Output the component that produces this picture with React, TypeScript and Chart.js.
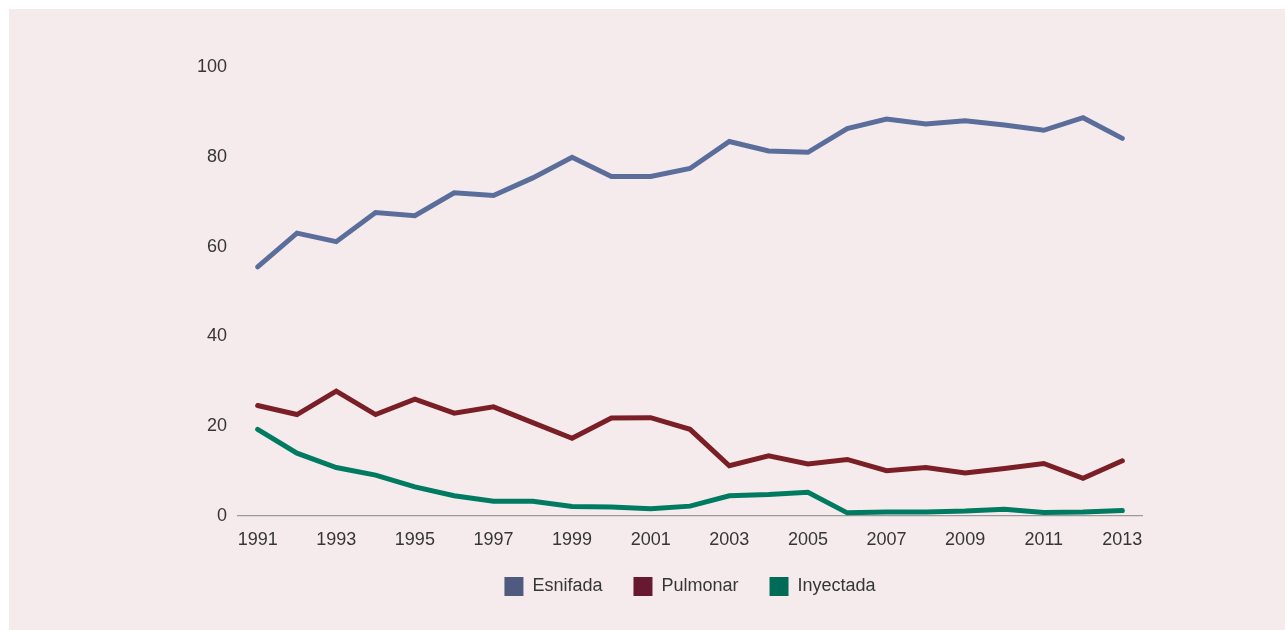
import React, { useEffect, useRef } from "react";
import { Chart, registerables } from "chart.js";

Chart.register(...registerables);

const years = [
  "1991", "1992", "1993", "1994", "1995", "1996", "1997", "1998", "1999", "2000", "2001", "2002",
  "2003", "2004", "2005", "2006", "2007", "2008", "2009", "2010", "2011", "2012", "2013",
];

const esnifada = [
  55.5, 63.0, 61.1, 67.6, 66.9, 72.0, 71.4, 75.3, 79.9, 75.6, 75.6, 77.4,
  83.4, 81.3, 81.0, 86.3, 88.4, 87.3, 88.0, 87.1, 85.9, 88.7, 84.1,
];

const pulmonar = [
  24.6, 22.6, 27.8, 22.6, 26.0, 22.9, 24.3, 20.8, 17.3, 21.8, 21.9, 19.3,
  11.2, 13.4, 11.6, 12.6, 10.1, 10.8, 9.6, 10.6, 11.7, 8.4, 12.3,
];

const inyectada = [
  19.3, 14.0, 10.8, 9.1, 6.5, 4.5, 3.3, 3.3, 2.1, 2.0, 1.6, 2.2,
  4.5, 4.8, 5.3, 0.7, 0.9, 0.9, 1.1, 1.5, 0.8, 0.9, 1.2,
];

const seriesNames = ["Esnifada", "Pulmonar", "Inyectada"];
const lineColors = ["#5b6e9b", "#7b1f26", "#007b62"];
const legendColors = ["#4f5a7e", "#66192f", "#006b57"];

const FONT = "'Liberation Sans', Arial, Helvetica, sans-serif";
const TEXT = "#363636";

export default function App() {
  const ref = useRef<HTMLCanvasElement | null>(null);

  useEffect(() => {
    if (!ref.current) return;
    const values = [esnifada, pulmonar, inyectada];
    const chart = new Chart(ref.current, {
      type: "line",
      data: {
        labels: years,
        datasets: seriesNames.map((name, i) => ({
          label: name,
          data: values[i],
          borderColor: lineColors[i],
          backgroundColor: legendColors[i],
          borderWidth: 5,
          pointRadius: 0,
          pointHoverRadius: 0,
          tension: 0,
          fill: false,
          borderCapStyle: "round",
          borderJoinStyle: "miter",
        })),
      },
      options: {
        animation: false,
        responsive: true,
        maintainAspectRatio: false,
        layout: { padding: { left: 0, right: 143, top: 58, bottom: 24 } },
        plugins: {
          tooltip: { enabled: false },
          legend: {
            position: "bottom",
            fullSize: false,
            labels: {
              boxWidth: 19,
              boxHeight: 19,
              padding: 31,
              color: TEXT,
              font: { family: FONT, size: 18 },
              generateLabels: () =>
                seriesNames.map((name, i) => ({
                  text: name,
                  fillStyle: legendColors[i],
                  strokeStyle: legendColors[i],
                  lineWidth: 0,
                  hidden: false,
                  datasetIndex: i,
                  fontColor: TEXT,
                })),
            },
          },
        },
        scales: {
          x: {
            type: "category",
            offset: true,
            grid: { display: true, drawOnChartArea: false, drawTicks: false },
            border: { display: true, color: "#9a9a9a", width: 1.2 },
            ticks: {
              autoSkip: false,
              maxRotation: 0,
              padding: 13,
              color: TEXT,
              font: { family: FONT, size: 18 },
              callback: (_v: any, idx: number) => (idx % 2 === 0 ? years[idx] : ""),
            },
            afterFit: (scale: any) => {
              scale.height = 30;
            },
          },
          y: {
            min: 0,
            max: 100,
            grid: { display: false, drawTicks: false },
            border: { display: false },
            ticks: {
              stepSize: 20,
              padding: 11,
              color: TEXT,
              font: { family: FONT, size: 18 },
            },
            afterFit: (scale: any) => {
              scale.width = 229;
            },
          },
        },
      },
    });
    return () => chart.destroy();
  }, []);

  return (
    <div
      style={{
        position: "fixed",
        left: 9,
        top: 9,
        width: 1276,
        height: 621,
        background: "#f5ebed",
      }}
    >
      <canvas ref={ref} />
    </div>
  );
}
